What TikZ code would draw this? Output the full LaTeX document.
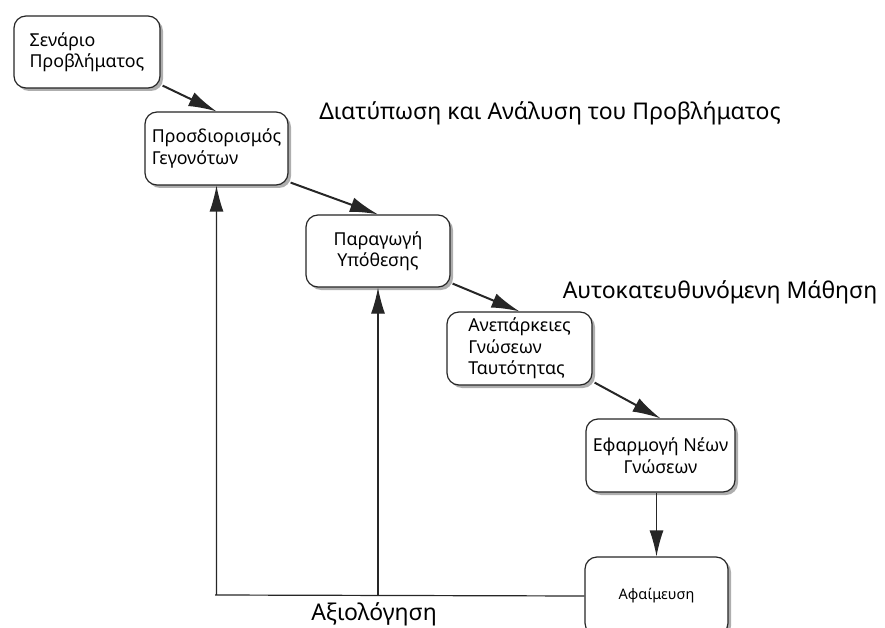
\documentclass[tikz,border=0pt]{standalone}
\usepackage{fontspec}
\setmainfont{Noto Sans}
\usetikzlibrary{arrows.meta,shadows}
\begin{document}
\begin{tikzpicture}[x=1pt,y=-1pt,
  stagebox/.style={draw=black!85, line width=1.2pt, rounded corners=12pt, fill=white,
    drop shadow={shadow xshift=3pt, shadow yshift=-3pt, fill=black!45, opacity=0.7},
    inner sep=0pt, font=\fontsize{17.8}{21.5}\selectfont, text=black},
  flow/.style={draw=black!85, line width=2pt, -{Latex[length=28pt,width=15pt]}},
  back/.style={draw=black!85, line width=1.2pt},
  backarrow/.style={back, -{Latex[length=26pt,width=14pt]}},
  heading/.style={font=\fontsize{23}{26}\selectfont, text=black}]
\useasboundingbox (0,0) rectangle (885,628);
\clip (0,0) rectangle (885,628);

% process stages
\node[stagebox, minimum width=146pt, minimum height=72pt, align=left] (b1) at (87,52)
  {Σενάριο\\Προβλήματος};
\node[stagebox, minimum width=143pt, minimum height=73pt, align=left] (b2) at (216.5,148.5)
  {Προσδιορισμός\\Γεγονότων};
\node[stagebox, minimum width=144pt, minimum height=72pt, align=center] (b3) at (378,251)
  {Παραγωγή\\Υπόθεσης};
\node[stagebox, minimum width=145pt, minimum height=73pt, align=left] (b4) at (519.5,348.5)
  {Ανεπάρκειες\\Γνώσεων\\Ταυτότητας};
\node[stagebox, minimum width=149pt, minimum height=73pt, align=center] (b5) at (660.5,455.5)
  {Εφαρμογή Νέων\\Γνώσεων};
\node[stagebox, minimum width=143pt, minimum height=78pt, align=center,
  font=\fontsize{14.5}{18}\selectfont] (b6) at (656.5,596)
  {Αφαίμευση};

% section headings
\node[heading] (h1) at (550,113) {Διατύπωση και Ανάλυση του Προβλήματος};
\node[heading] (h2) at (720,292) {Αυτοκατευθυνόμενη Μάθηση};
\node[heading] (h3) at (374,614) {Αξιολόγηση};

% forward flow
\draw[flow] ([shift={(2,-3)}]b1.south east) -- (b2.north);
\draw[flow] ([shift={(2,-3)}]b2.south east) -- (b3.north);
\draw[flow] ([shift={(2,-4)}]b3.south east) -- (b4.north);
\draw[flow] ([shift={(2,-3)}]b4.south east) -- (b5.north);
\draw[backarrow] (b5.south -| b6.north) -- (b6.north);

% evaluation feedback
\coordinate (fl) at (215,595);
\draw[backarrow] (b6.west) -- (fl) -- (fl -| b2.south) -- (b2.south);
\draw[backarrow] (b3.south |- fl) -- (b3.south);
\end{tikzpicture}
\end{document}
